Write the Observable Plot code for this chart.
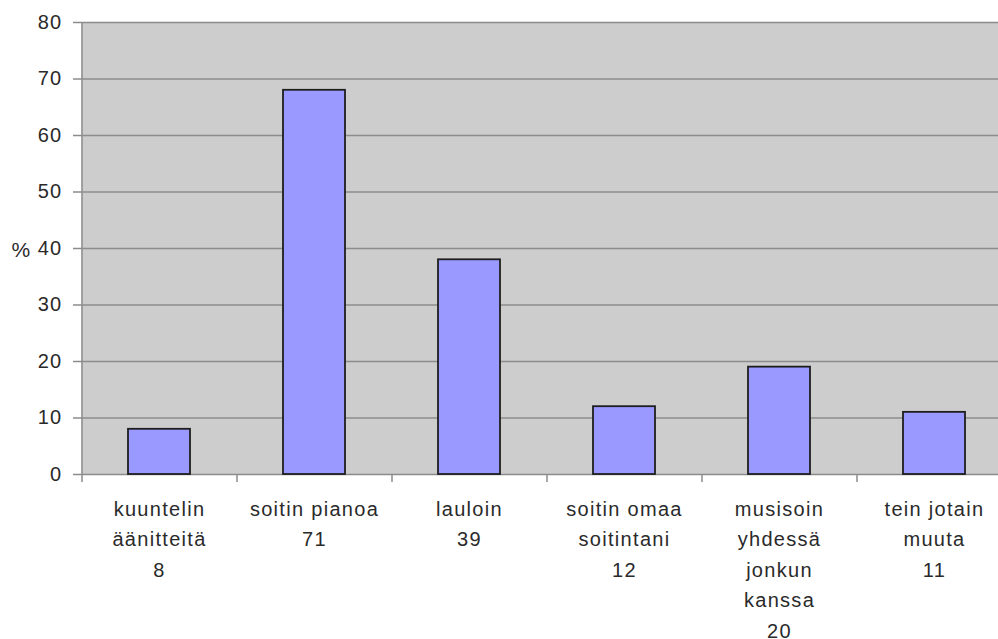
<!DOCTYPE html>
<html><head><meta charset="utf-8">
<script src="https://cdn.jsdelivr.net/npm/d3@7"></script>
<script src="https://cdn.jsdelivr.net/npm/@observablehq/plot@0.6"></script>
<style>html,body{margin:0;padding:0;background:#fff;overflow:hidden}</style>
</head><body><div id="chart"></div>
<script>
const categories = ["kuuntelin äänitteitä", "soitin pianoa", "lauloin", "soitin omaa soitintani", "musisoin yhdessä jonkun kanssa", "tein jotain muuta"];
const labelLines = [["kuuntelin", "äänitteitä"], ["soitin pianoa"], ["lauloin"], ["soitin omaa", "soitintani"], ["musisoin", "yhdessä", "jonkun", "kanssa"], ["tein jotain", "muuta"]];
const counts = [8, 71, 39, 12, 20, 11];
const percents = [8, 68, 38, 12, 19, 11];
const yTicks = [0, 10, 20, 30, 40, 50, 60, 70, 80];
const yLabel = "%";

const data = categories.map((c, i) => ({
  category: c,
  value: percents[i],
  label: labelLines[i].concat(String(counts[i])).join("\n")
}));

const width = 998, height = 639;
const marginLeft = 81, marginRight = -13, marginTop = 22, marginBottom = 165;
const step = (width - marginLeft - marginRight) / categories.length;
const grid = "#8c8c8c";

const chart = Plot.plot({
  width, height, marginLeft, marginRight, marginTop, marginBottom,
  style: {fontFamily: "'Liberation Sans', Arial, sans-serif", fontSize: "20px", color: "#2a2a2a", background: "#fff", letterSpacing: "1.3px"},
  x: {domain: categories, axis: null, paddingInner: 0.6, paddingOuter: 0.3},
  y: {domain: [0, 80], ticks: yTicks, tickSize: 0, tickPadding: 19, label: null},
  marks: [
    Plot.frame({fill: "#cdcdcd", stroke: null}),
    Plot.ruleY(yTicks, {stroke: grid, strokeWidth: 1.5, insetLeft: -8}),
    Plot.ruleX([categories[0]], {dx: -step / 2, y1: 80, y2: 0, insetBottom: -8, stroke: grid, strokeWidth: 1.5}),
    Plot.ruleX(categories.slice(1), {dx: -step / 2, y1: 0, y2: 0, insetBottom: -8, stroke: grid, strokeWidth: 1.5}),
    Plot.barY(data, {x: "category", y: "value", fill: "#9999ff", stroke: "#1e1e1e", strokeWidth: 1.8}),
    Plot.text(data, {x: "category", y: 0, text: "label", lineAnchor: "top", lineHeight: 1.52, dy: 20, fontSize: 20, fill: "#2a2a2a"}),
    Plot.text([yLabel], {frameAnchor: "left", text: d => d, dx: -60, dy: 2, fontSize: 21, fill: "#2a2a2a", textAnchor: "middle"})
  ]
});
document.getElementById("chart").appendChild(chart);
</script>
</body></html>
